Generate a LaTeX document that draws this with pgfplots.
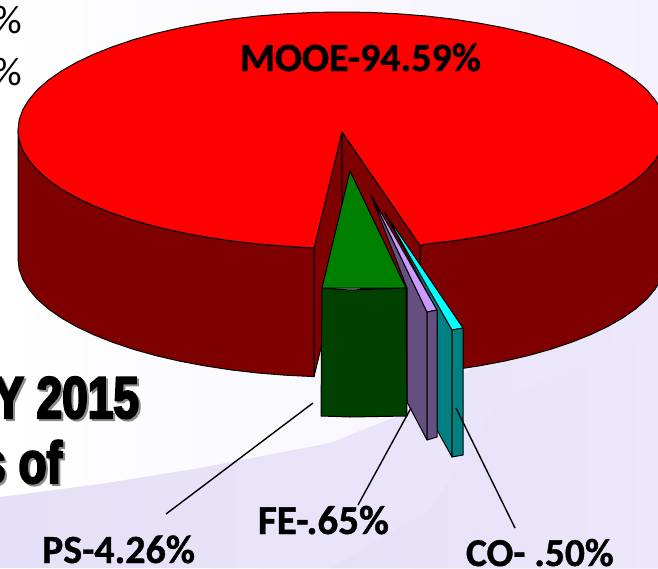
\documentclass[border=0pt]{standalone}
\usepackage{pgfplots}
\pgfplotsset{compat=1.18}
\usepackage{fontspec}
\setmainfont[BoldFeatures={FakeBold=1}]{Carlito}
\newfontfamily\imp[FakeStretch=0.78,FakeBold=3.5,UprightFont=* Bold]{Liberation Sans}
\definecolor{sidered}{HTML}{7F0000}
\definecolor{topgreen}{HTML}{008000}
\definecolor{sidegreen}{HTML}{004000}
\definecolor{toppurple}{HTML}{CC99FF}
\definecolor{sidepurple}{HTML}{665080}
\definecolor{sideteal}{HTML}{008080}
\definecolor{topcyan}{HTML}{00FFFF}
\definecolor{lavTop}{HTML}{F3F1FD}
\definecolor{lavA}{HTML}{ECE7FA}
\definecolor{lavB}{HTML}{E5E0F7}
\definecolor{lavC}{HTML}{DFD5F5}
\begin{document}
\begin{tikzpicture}
\path[clip,use as bounding box] (0,0) rectangle (658pt,568pt);
\begin{axis}[
  at={(0,0)},anchor=south west,
  width=658pt,height=568pt,scale only axis,
  xmin=0,xmax=658,ymin=0,ymax=568,y dir=reverse,
  hide axis,clip=true,
  every axis plot/.append style={line join=round},
  nodes={inner sep=0pt,outer sep=0pt}
]
% background
\addplot[draw=none,left color=white,right color=lavTop] coordinates {(0,0)(658,0)(658,568)(0,568)} --cycle;
\addplot[draw=none,left color=lavB,right color=lavA] coordinates {(0,497)(100,484)(200,468)(330,443)(400,415)(500,350)(658,270)(658,568)(0,568)} --cycle;
\addplot[draw=none,left color=lavB,middle color=lavC,right color=lavA] coordinates {(330,568)(430,510)(500,400)(658,330)(658,568)} --cycle;
% side of the big slice
\addplot[fill=sidered,draw=black,line width=1pt] coordinates {(18,130)(19.2,140.3)(22.9,150.5)(29.1,160.5)(37.5,170.4)(48.4,179.9)(61.4,189)(76.6,197.7)(93.8,205.8)(112.9,213.4)(133.7,220.4)(156.2,226.7)(180,232.2)(205.1,236.9)(231.2,240.9)(258.1,244)(285.8,246.2)(314,248)(314,376.6)(285.8,375.2)(258.1,373)(231.2,369.9)(205.1,365.9)(180,361.2)(156.2,355.7)(133.7,349.4)(112.9,342.4)(93.8,334.8)(76.6,326.7)(61.4,318)(48.4,308.9)(37.5,299.4)(29.1,289.5)(22.9,279.5)(19.2,269.3)(18,259)} --cycle;
\addplot[fill=sidered,draw=black,line width=1pt] coordinates {(420,245.5)(425.9,244)(452.8,240.9)(478.9,236.9)(504,232.2)(527.8,226.7)(550.3,220.4)(571.1,213.4)(590.2,205.8)(607.4,197.7)(622.6,189)(635.6,179.9)(646.5,170.4)(654.9,160.5)(661.1,150.5)(664.8,140.3)(666,130)(666,259)(664.8,269.3)(661.1,279.5)(654.9,289.5)(646.5,299.4)(635.6,308.9)(622.6,318)(607.4,326.7)(590.2,334.8)(571.1,342.4)(550.3,349.4)(527.8,355.7)(504,361.2)(478.9,365.9)(452.8,369.9)(425.9,373)(420,374)} --cycle;
% notch walls
\addplot[fill=sidered,draw=black,line width=1pt] coordinates {(342,132)(314,248)(314,376.6)(342,262)} --cycle;
\addplot[fill=sidered,draw=black,line width=1pt] coordinates {(342,132)(420,245.5)(420,374)(342,262)} --cycle;
% top of the big slice
\addplot[fill=red,draw=black,line width=1pt] coordinates {(18,130)(19.2,119.7)(22.9,109.5)(29.1,99.5)(37.5,89.6)(48.4,80.1)(61.4,71)(76.6,62.3)(93.8,54.2)(112.9,46.6)(133.7,39.6)(156.2,33.3)(180,27.8)(205.1,23.1)(231.2,19.1)(258.1,16)(285.8,13.8)(313.7,12.4)(342,12)(370.3,12.4)(398.2,13.8)(425.9,16)(452.8,19.1)(478.9,23.1)(504,27.8)(527.8,33.3)(550.3,39.6)(571.1,46.6)(590.2,54.2)(607.4,62.3)(622.6,71)(635.6,80.1)(646.5,89.6)(654.9,99.5)(661.1,109.5)(664.8,119.7)(666,130)(664.8,140.3)(661.1,150.5)(654.9,160.5)(646.5,170.4)(635.6,179.9)(622.6,189)(607.4,197.7)(590.2,205.8)(571.1,213.4)(550.3,220.4)(527.8,226.7)(504,232.2)(478.9,236.9)(452.8,240.9)(425.9,244)(420,245.5)(342,132)(314,248)(285.8,246.2)(258.1,244)(231.2,240.9)(205.1,236.9)(180,232.2)(156.2,226.7)(133.7,220.4)(112.9,213.4)(93.8,205.8)(76.6,197.7)(61.4,189)(48.4,179.9)(37.5,170.4)(29.1,160.5)(22.9,150.5)(19.2,140.3)} --cycle;
% teal slice (CO)
\addplot[fill=sideteal,draw=black,line width=1pt] coordinates {(385,213)(452,330)(452,457)(437,430)(437,311)} --cycle;
\addplot[fill=topcyan,draw=black,line width=1pt] coordinates {(385,213)(452,330)(463,328)} --cycle;
\addplot[fill=sideteal,draw=black,line width=1pt] coordinates {(452,330)(463,328)(463,455)(452,457)} --cycle;
% purple slice (FE)
\addplot[fill=sidepurple,draw=black,line width=1pt] coordinates {(371,195)(427,312)(427,440)(407,402)(407,288)} --cycle;
\addplot[fill=toppurple,draw=black,line width=1pt] coordinates {(371,195)(427,312)(437,310)} --cycle;
\addplot[fill=sidepurple,draw=black,line width=1pt] coordinates {(427,312)(437,310)(437,437)(427,440)} --cycle;
% green slice (PS)
\addplot[fill=topgreen,draw=black,line width=1pt] coordinates {(350,171)(322,288)(406,288)} --cycle;
\addplot[fill=sidegreen,draw=black,line width=1pt] coordinates {(322,288)(350,290)(406,288)(407,416)(350,417)(321,416)} --cycle;
% leader lines
\addplot[black,line width=1.4pt] coordinates {(166,514)(313,403)};
\addplot[black,line width=1.4pt] coordinates {(358,505)(411,408)};
\addplot[black,line width=1.4pt] coordinates {(456,408)(515,528)};
% labels
\node[anchor=base west,font=\fontsize{40}{42}\selectfont\bfseries] at (axis cs:240,71) {MOOE-94.59\%};
\node[anchor=base west,font=\fontsize{40}{42}\selectfont\bfseries] at (axis cs:42,563) {PS-4.26\%};
\node[anchor=base west,font=\fontsize{41}{43}\selectfont\bfseries] at (axis cs:258,534) {FE-.65\%};
\node[anchor=base west,font=\fontsize{39.5}{42}\selectfont\bfseries] at (axis cs:466,566) {CO- .50\%};
\node[anchor=base east,font=\fontsize{40}{42}\selectfont] at (axis cs:22,33) {\%};
\node[anchor=base east,font=\fontsize{40}{42}\selectfont] at (axis cs:22,85) {\%};
% heavy heading cut by the left edge, with its shadow
\node[anchor=base east,text=black!45,font=\fontsize{59}{60}\imp\selectfont] at (axis cs:141,420) {FY 2015};
\node[anchor=base east,text=black,font=\fontsize{59}{60}\imp\selectfont] at (axis cs:139,418) {FY 2015};
\node[anchor=base east,text=black!45,font=\fontsize{59}{60}\imp\selectfont] at (axis cs:64,485) {s of};
\node[anchor=base east,text=black,font=\fontsize{59}{60}\imp\selectfont] at (axis cs:62,483) {s of};
\end{axis}
\end{tikzpicture}
\end{document}
